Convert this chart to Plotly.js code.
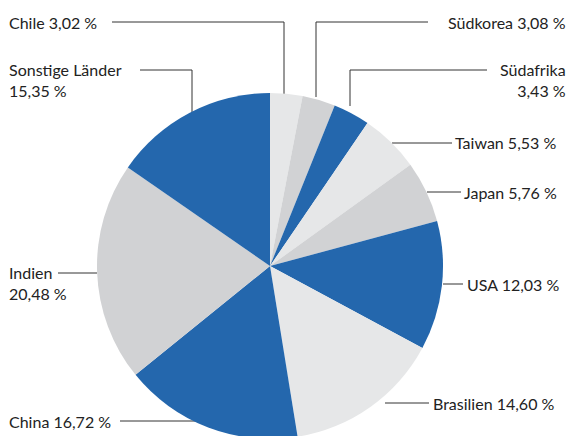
<!DOCTYPE html>
<html><head><meta charset="utf-8">
<script src="https://cdn.plot.ly/plotly-3.0.1.min.js"></script>
<style>html,body{margin:0;padding:0;overflow:hidden;background:#fff}</style>
</head><body><div id="chart" style="width:570px;height:442px"></div>
<script>
var countries = ["Chile","Südkorea","Südafrika","Taiwan","Japan","USA","Brasilien","China","Indien","Sonstige Länder"];
var shares = [3.02,3.08,3.43,5.53,5.76,12.03,14.60,16.72,20.48,15.35];
var labelTexts = ["Chile 3,02 %","Südkorea 3,08 %","Südafrika<br>3,43 %","Taiwan 5,53 %","Japan 5,76 %","USA 12,03 %","Brasilien 14,60 %","China 16,72 %","Indien<br>20,48 %","Sonstige Länder<br>15,35 %"];

var W = 570, H = 442;
var BLUE = "#2467ad", LIGHT = "#e6e7e8", MID = "#d1d2d4";
var colors = [LIGHT, MID, BLUE, LIGHT, MID, BLUE, LIGHT, BLUE, MID, BLUE];
function px(x){return x/W;}
function py(y){return (H-y)/H;}

// label layout: text anchor (first line centre) and leader polyline (pixels)
var labelLayout = [
  {x:8,   y:22,  xa:"left",  path:[[112,22],[284,22],[284,94]]},
  {x:567, y:22,  xa:"right", path:[[428,22],[316,22],[316,97]]},
  {x:567, y:70,  xa:"right", path:[[487,70],[350,70],[350,106]]},
  {x:454, y:143, xa:"left",  path:[[452,143],[392,143]]},
  {x:463, y:192, xa:"left",  path:[[461,192],[427,192]]},
  {x:466, y:284, xa:"left",  path:[[463,284],[443,284]]},
  {x:432, y:403, xa:"left",  path:[[429,403],[385,403]]},
  {x:8,   y:421, xa:"left",  path:[[120,421],[196,421]]},
  {x:8,   y:273, xa:"left",  path:[[58,273],[97,273]]},
  {x:8,   y:70,  xa:"left",  path:[[140,70],[192,70],[192,113]]}
];
var FS = 16, HALF_LINE = FS*1.3/2;

var shapes = [], annotations = [];
labelLayout.forEach(function(l, i){
  var p = l.path;
  for (var k = 0; k < p.length-1; k++){
    shapes.push({type:"line", xref:"paper", yref:"paper",
      x0:px(p[k][0]), y0:py(p[k][1]), x1:px(p[k+1][0]), y1:py(p[k+1][1]),
      line:{color:"#333333", width:1}, layer:"below"});
  }
  var n = labelTexts[i].split("<br>").length;
  annotations.push({xref:"paper", yref:"paper", x:px(l.x), y:py(l.y + (n-1)*HALF_LINE),
    xanchor:l.xa, yanchor:"middle", align:l.xa, showarrow:false, borderpad:0,
    text:labelTexts[i], font:{family:"Lato, sans-serif", size:FS, color:"#222"}});
});

var cx = 270, cy = 266, r = 173;
var trace = {
  type:"pie", labels:countries, values:shares, sort:false, direction:"clockwise",
  rotation:0, textinfo:"none", hoverinfo:"label+percent", showlegend:false,
  marker:{colors:colors, line:{width:0}},
  domain:{x:[px(cx-r), px(cx+r)], y:[py(cy+r), py(cy-r)]}
};
Plotly.newPlot("chart", [trace], {
  width:W, height:H, margin:{l:0,r:0,t:0,b:0},
  paper_bgcolor:"#fff", shapes:shapes, annotations:annotations
}, {staticPlot:true});
</script></body></html>
